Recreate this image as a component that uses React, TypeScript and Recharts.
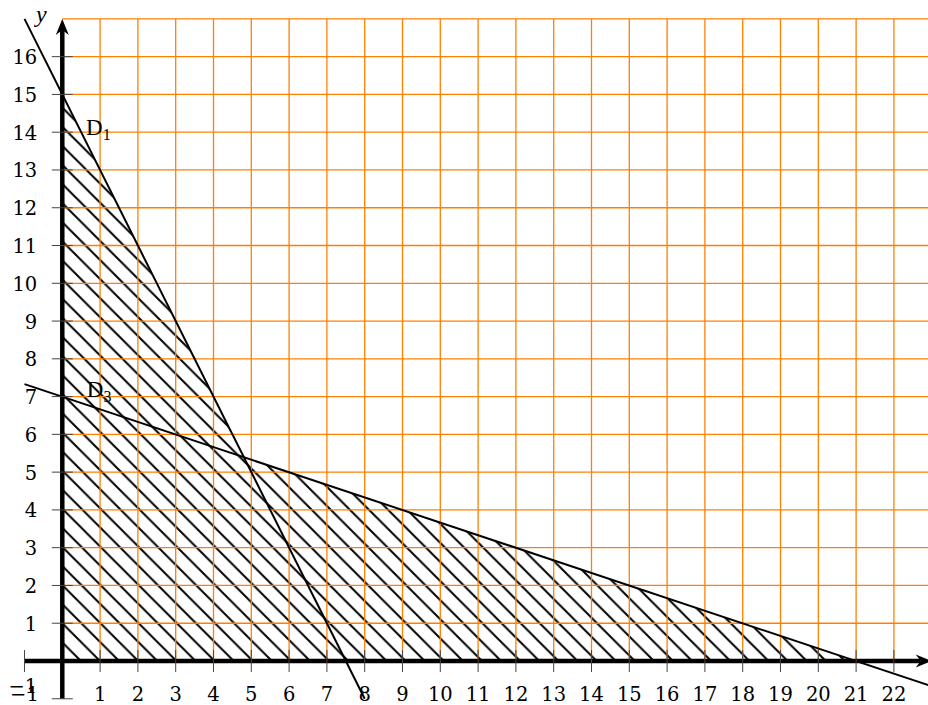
import React from "react";
import {
  ComposedChart,
  Area,
  Line,
  XAxis,
  YAxis,
  ReferenceLine,
  ReferenceDot,
} from "recharts";

// tick values on the axes
const xTickValues = [-1, 1, 2, 3, 4, 5, 6, 7, 8, 9, 10, 11, 12, 13, 14, 15, 16, 17, 18, 19, 20, 21, 22];
const yTickValues = [-1, 1, 2, 3, 4, 5, 6, 7, 8, 9, 10, 11, 12, 13, 14, 15, 16];

// orange grid (first quadrant only)
const gridXValues = [1, 2, 3, 4, 5, 6, 7, 8, 9, 10, 11, 12, 13, 14, 15, 16, 17, 18, 19, 20, 21, 22];
const gridYValues = [1, 2, 3, 4, 5, 6, 7, 8, 9, 10, 11, 12, 13, 14, 15, 16, 17];
const gridTop = 17;
const gridRight = 23;

// hatched region (upper boundary)
const regionX = [0, 4.8, 21];
const regionY = [15, 5.4, 0];

// lines D1 and D3 (end points)
const d1X = [-1, 8];
const d1Y = [17, -1];
const d3X = [-1, 23];
const d3Y = [7.33, -0.67];

// line names
const lineLabels = [
  { name: "D", sub: "1", x: 0.63, y: 13.93 },
  { name: "D", sub: "3", x: 0.65, y: 6.99 },
];

const region = regionX.map((x, i) => ({ x, y: regionY[i] }));
const d1 = d1X.map((x, i) => ({ x, y: d1Y[i] }));
const d3 = d3X.map((x, i) => ({ x, y: d3Y[i] }));

const W = 928;
const H = 705;
const TICK_FONT = "'DejaVu Serif', serif";
const NAME_FONT = "'Liberation Serif', serif";
const HATCH = 19.1;

const fmt = (t: number) => (t < 0 ? "\u2212" + Math.abs(t) : String(t));

const arrowAxis = (p: any) => {
  const { x1, y1, x2, y2 } = p;
  const a = Math.atan2(y2 - y1, x2 - x1);
  const c = Math.cos(a);
  const s = Math.sin(a);
  const len = 16;
  const half = 6.5;
  const notch = 5;
  const pt = (u: number, v: number) => `${x2 + u * c - v * s},${y2 + u * s + v * c}`;
  return (
    <g>
      <line
        x1={x1}
        y1={y1}
        x2={x2 - (len - notch) * c}
        y2={y2 - (len - notch) * s}
        stroke="#000"
        strokeWidth={4.5}
      />
      <path
        d={`M${pt(0, 0)} L${pt(-len, half)} L${pt(-len + notch, 0)} L${pt(-len, -half)} Z`}
        fill="#000"
      />
    </g>
  );
};

export default function App() {
  return (
    <div style={{ position: "absolute", left: 0, top: 0 }}>
      <ComposedChart
        width={W}
        height={H}
        data={region}
        margin={{ top: 0, right: 0, bottom: 0, left: 0 }}
      >
        <defs>
          <pattern
            id="hatch"
            patternUnits="userSpaceOnUse"
            x={-7.1}
            y={0}
            width={HATCH}
            height={HATCH}
          >
            <path
              d={`M-2,-2 L${HATCH + 2},${HATCH + 2} M-2,${HATCH - 2} L2,${HATCH + 2} M${HATCH - 2},-2 L${HATCH + 2},2`}
              stroke="#000"
              strokeWidth={2}
            />
          </pattern>
        </defs>

        <XAxis
          hide
          type="number"
          dataKey="x"
          domain={[-1.648, 22.902]}
          allowDataOverflow
        />
        <YAxis hide type="number" domain={[-1.165, 17.5]} allowDataOverflow />

        {gridXValues.map((x) => (
          <ReferenceLine
            key={"gx" + x}
            segment={[
              { x, y: 0 },
              { x, y: gridTop },
            ]}
            stroke="#ff8000"
            strokeWidth={1.3}
            ifOverflow="visible"
          />
        ))}
        {gridYValues.map((y) => (
          <ReferenceLine
            key={"gy" + y}
            segment={[
              { x: 0, y },
              { x: gridRight, y },
            ]}
            stroke="#ff8000"
            strokeWidth={1.3}
            ifOverflow="visible"
          />
        ))}

        <Area
          dataKey="y"
          type="linear"
          baseValue={0}
          stroke="none"
          fill="url(#hatch)"
          fillOpacity={1}
          isAnimationActive={false}
          dot={false}
          activeDot={false}
        />

        <Line
          data={d1}
          dataKey="y"
          type="linear"
          stroke="#000"
          strokeWidth={2}
          dot={false}
          activeDot={false}
          isAnimationActive={false}
        />
        <Line
          data={d3}
          dataKey="y"
          type="linear"
          stroke="#000"
          strokeWidth={2}
          dot={false}
          activeDot={false}
          isAnimationActive={false}
        />

        {/* x axis ticks and labels */}
        {xTickValues.map((t) => (
          <ReferenceDot
            key={"xt" + t}
            x={t}
            y={0}
            ifOverflow="visible"
            shape={(p: any) => (
              <g>
                <line x1={p.cx} x2={p.cx} y1={p.cy - 11} y2={p.cy + 11} stroke="#444" strokeWidth={1} />
                <text
                  x={p.cx}
                  y={p.cy + 40}
                  textAnchor="middle"
                  fontFamily={TICK_FONT}
                  fontSize={19.5}
                  fill="#000"
                >
                  {fmt(t)}
                </text>
              </g>
            )}
          />
        ))}

        {/* y axis ticks and labels */}
        {yTickValues.map((t) => (
          <ReferenceDot
            key={"yt" + t}
            x={0}
            y={t}
            ifOverflow="visible"
            shape={(p: any) => (
              <g>
                <line x1={p.cx - 10.5} x2={p.cx + 10.5} y1={p.cy} y2={p.cy} stroke="#444" strokeWidth={1} />
                <text
                  x={p.cx - 25}
                  y={t < 0 ? p.cy - 6 : p.cy + 7.5}
                  textAnchor="end"
                  fontFamily={TICK_FONT}
                  fontSize={19.5}
                  fill="#000"
                >
                  {fmt(t)}
                </text>
              </g>
            )}
          />
        ))}

        {/* axes with arrows */}
        <ReferenceLine
          segment={[
            { x: -1, y: 0 },
            { x: gridRight, y: 0 },
          ]}
          ifOverflow="visible"
          shape={arrowAxis}
        />
        <ReferenceLine
          segment={[
            { x: 0, y: -1 },
            { x: 0, y: gridTop },
          ]}
          ifOverflow="visible"
          shape={arrowAxis}
        />

        <ReferenceDot
          x={0}
          y={gridTop}
          ifOverflow="visible"
          shape={(p: any) => (
            <text
              x={p.cx - 21}
              y={p.cy + 3}
              textAnchor="middle"
              fontFamily={NAME_FONT}
              fontStyle="italic"
              fontSize={24}
              fill="#000"
            >
              y
            </text>
          )}
        />

        {lineLabels.map((l) => (
          <ReferenceDot
            key={l.name + l.sub}
            x={l.x}
            y={l.y}
            ifOverflow="visible"
            shape={(p: any) => (
              <text x={p.cx} y={p.cy} fontFamily={NAME_FONT} fontSize={23} fill="#000">
                {l.name}
                <tspan dy={5} fontSize={16}>
                  {l.sub}
                </tspan>
              </text>
            )}
          />
        ))}
      </ComposedChart>
    </div>
  );
}
